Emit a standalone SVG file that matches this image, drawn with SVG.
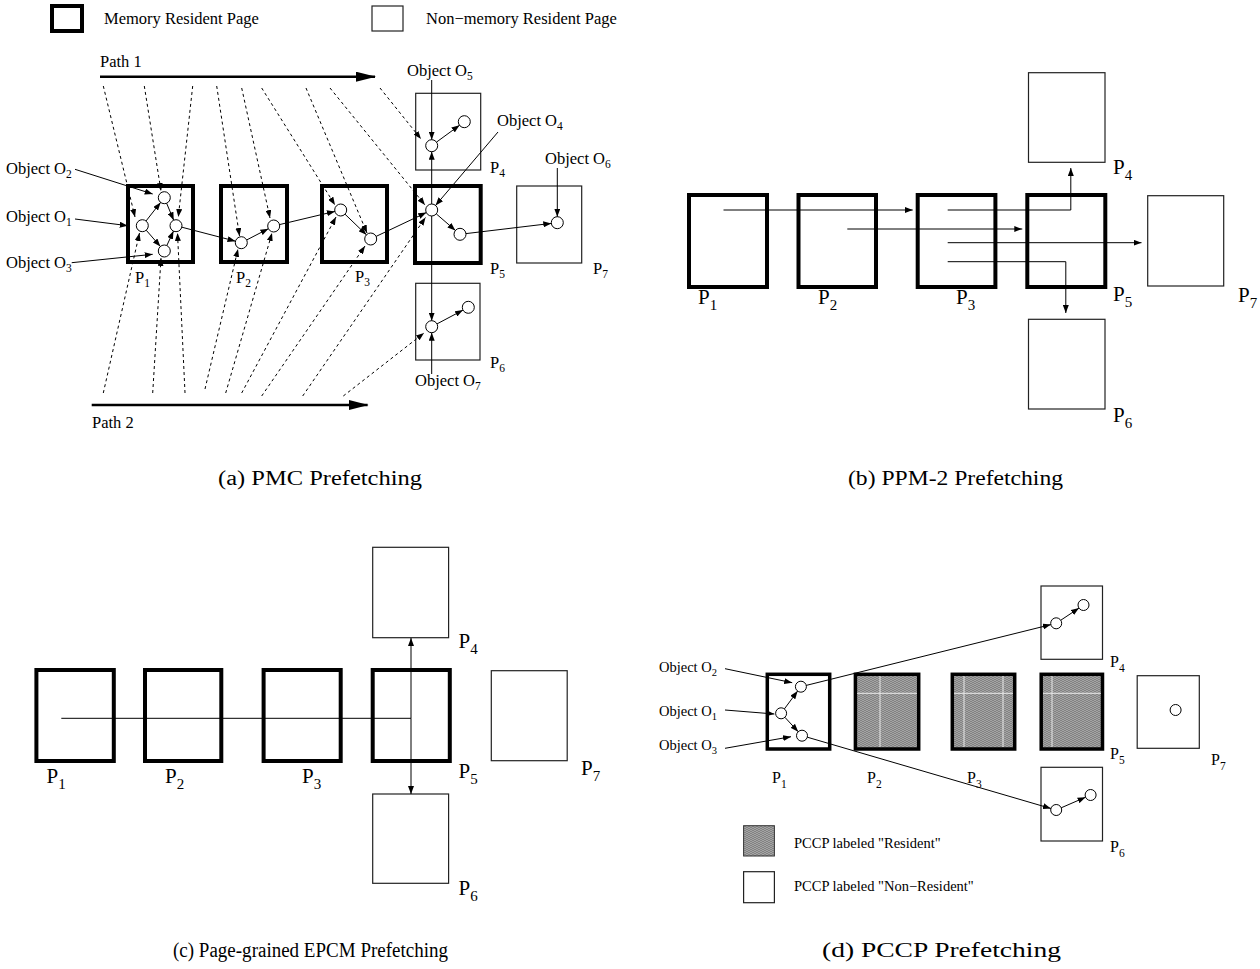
<svg xmlns="http://www.w3.org/2000/svg" width="1260" height="969" viewBox="0 0 1260 969">
<style>
text{font-family:"Liberation Serif","Times New Roman",serif;fill:#000}
.ta{font-size:16.5px}
.tb{font-size:21px}
.td{font-size:14.5px}
.pd{font-size:16px}
.cap{font-size:20.5px}
.thick{fill:#fff;stroke:#000;stroke-width:4}
.thin{fill:#fff;stroke:#222;stroke-width:1.2}
.hat{fill:url(#stip);stroke:#000;stroke-width:3.5}
.c{fill:#fff;stroke:#000;stroke-width:1}
.ln{fill:none;stroke:#000;stroke-width:1;marker-end:url(#ah)}
.ls{fill:none;stroke:#000;stroke-width:1}
.dl{fill:none;stroke:#000;stroke-width:1;stroke-dasharray:3 3;marker-end:url(#ah)}
.pa{fill:none;stroke:#000;stroke-width:2.5;marker-end:url(#big)}
.wl{stroke:#fff;stroke-width:1;opacity:0.8}
</style>
<defs>
<marker id="ah" viewBox="0 0 8 6" refX="8" refY="3" markerWidth="8" markerHeight="6" markerUnits="userSpaceOnUse" orient="auto-start-reverse"><path d="M0,0 L8,3 L0,6 z" fill="#000"/></marker>
<marker id="big" viewBox="0 0 20 10" refX="19" refY="5" markerWidth="20" markerHeight="10" markerUnits="userSpaceOnUse" orient="auto"><path d="M0,0 L20,5 L0,10 z" fill="#000"/></marker>
<pattern id="stip" width="4" height="4" patternUnits="userSpaceOnUse">
<rect width="4" height="4" fill="#b4b4b4"/>
<path d="M0,1 Q1,0 2,1 T4,1 M0,3 Q1,2 2,3 T4,3" fill="none" stroke="#555" stroke-width="0.7"/>
</pattern>
</defs>

<!-- Legend (a) -->
<g id="legend-a">
<rect class="thick" x="52" y="6" width="30" height="25"/>
<text class="ta" x="104" y="24">Memory Resident Page</text>
<rect class="thin" x="372" y="6" width="31" height="25"/>
<text class="ta" x="426" y="24">Non−memory Resident Page</text>
</g>

<!-- Panel (a) -->
<g id="a-paths">
<text class="ta" x="100" y="67">Path 1</text>
<text class="ta" x="92" y="428">Path 2</text>
</g>
<g id="a-P1">
<rect class="thick" x="128" y="186" width="65" height="76"/>
<circle class="c" cx="164.3" cy="197.7" r="6"/>
<circle class="c" cx="142.3" cy="225.7" r="6"/>
<circle class="c" cx="176" cy="225.7" r="6"/>
<circle class="c" cx="164.3" cy="251" r="6"/>
<text class="ta" x="135" y="283">P<tspan dy="4" font-size="11.5">1</tspan></text>
</g>
<g id="a-P2">
<rect class="thick" x="221" y="186" width="66" height="76"/>
<circle class="c" cx="241.3" cy="242.7" r="6"/>
<circle class="c" cx="273.7" cy="226" r="6"/>
<text class="ta" x="236" y="283">P<tspan dy="4" font-size="11.5">2</tspan></text>
</g>
<g id="a-P3">
<rect class="thick" x="322" y="186" width="65" height="76"/>
<circle class="c" cx="340.7" cy="210" r="6"/>
<circle class="c" cx="370.7" cy="239" r="6"/>
<text class="ta" x="355" y="282">P<tspan dy="4" font-size="11.5">3</tspan></text>
</g>
<g id="a-P4">
<rect class="thin" x="415.7" y="93.3" width="65" height="76.7"/>
<circle class="c" cx="431.7" cy="145.7" r="6"/>
<circle class="c" cx="464.3" cy="121.7" r="6"/>
<text class="ta" x="490" y="173">P<tspan dy="4" font-size="11.5">4</tspan></text>
</g>
<g id="a-P5">
<rect class="thick" x="415" y="186" width="65.7" height="77"/>
<circle class="c" cx="431.7" cy="210" r="6"/>
<circle class="c" cx="460" cy="234.3" r="6"/>
<text class="ta" x="490" y="274">P<tspan dy="4" font-size="11.5">5</tspan></text>
</g>
<g id="a-P6">
<rect class="thin" x="415.7" y="283.3" width="64.3" height="76.7"/>
<circle class="c" cx="431.7" cy="326.7" r="6"/>
<circle class="c" cx="468.3" cy="307.3" r="6"/>
<text class="ta" x="490" y="368">P<tspan dy="4" font-size="11.5">6</tspan></text>
</g>
<g id="a-P7">
<rect class="thin" x="516.7" y="186" width="65" height="77"/>
<circle class="c" cx="557.3" cy="222.7" r="6"/>
<text class="ta" x="593" y="274">P<tspan dy="4" font-size="11.5">7</tspan></text>
</g>
<g id="a-objects">
<text class="ta" x="6" y="174">Object O<tspan dy="4" font-size="11.5">2</tspan></text>
<text class="ta" x="6" y="222">Object O<tspan dy="4" font-size="11.5">1</tspan></text>
<text class="ta" x="6" y="268">Object O<tspan dy="4" font-size="11.5">3</tspan></text>
<text class="ta" x="407" y="76">Object O<tspan dy="4" font-size="11.5">5</tspan></text>
<text class="ta" x="497" y="126">Object O<tspan dy="4" font-size="11.5">4</tspan></text>
<text class="ta" x="545" y="164">Object O<tspan dy="4" font-size="11.5">6</tspan></text>
<text class="ta" x="415" y="386">Object O<tspan dy="4" font-size="11.5">7</tspan></text>
</g>

<g id="a-connectors">
<path class="pa" d="M100,76.7 H375"/>
<path class="pa" d="M91.7,405 H367.6"/>
<path class="ln" d="M146,221 L160.6,202.4"/>
<path class="ln" d="M166.6,203.2 L173.7,220.2"/>
<path class="ln" d="M146.2,230.2 L160.4,246.5"/>
<path class="ln" d="M166.8,245.6 L173.5,231.1"/>
<path class="ln" d="M181.8,227.2 L235.5,241.2"/>
<path class="ln" d="M246.6,240 L268.4,228.7"/>
<path class="ln" d="M279.5,224.6 L334.9,211.4"/>
<path class="ln" d="M345,214.2 L366.4,234.8"/>
<path class="ln" d="M376.1,236.4 L426.3,212.6"/>
<path class="ln" d="M436.3,213.9 L455.4,230.4"/>
<path class="ln" d="M466,233.6 L551.3,223.4"/>
<path class="ln" d="M436.5,142.1 L459.5,125.3"/>
<path class="ln" d="M437,323.9 L463,310.1"/>
<path class="ln" d="M431.7,204 V151.7"/>
<path class="ln" d="M431.7,216 V320.7"/>
<path class="ln" d="M431.7,80 V139.7"/>
<path class="ln" d="M431.7,374 V332.7"/>
<path class="ln" d="M498,132 L435.6,205.4"/>
<path class="ln" d="M557.3,168 V216.7"/>
<path class="ln" d="M75,169.3 L152.7,194"/>
<path class="ln" d="M75,219 L127.7,225.7"/>
<path class="ln" d="M71.7,262.7 L152.7,254.3"/>
<path class="dl" d="M103.3,86 L135,217"/>
<path class="dl" d="M144.3,86 L161,191"/>
<path class="dl" d="M192.7,86 L178.3,217"/>
<path class="dl" d="M216.7,86 L239.5,236"/>
<path class="dl" d="M241.7,88 L270,218"/>
<path class="dl" d="M261.7,88 L335,205"/>
<path class="dl" d="M306,88 L367,233"/>
<path class="dl" d="M330,88 L425,205"/>
<path class="dl" d="M380,88 L421,139"/>
<path class="dl" d="M103.3,393 L139.5,233"/>
<path class="dl" d="M152.7,393 L161,258"/>
<path class="dl" d="M185,393 L177.5,233"/>
<path class="dl" d="M205,389 L238,249"/>
<path class="dl" d="M225.7,393 L272,233"/>
<path class="dl" d="M241.7,393 L336,217"/>
<path class="dl" d="M261.7,396 L365,246"/>
<path class="dl" d="M302.7,396 L425.5,217.5"/>
<path class="dl" d="M343.3,396 L424,333"/>
</g>
<text class="cap" x="218" y="485" textLength="204" lengthAdjust="spacingAndGlyphs">(a) PMC Prefetching</text>

<!-- Panel (b) -->
<g id="b-P1"><rect class="thick" x="689" y="195" width="78" height="92"/><text class="tb" x="698" y="304">P<tspan dy="6" font-size="15">1</tspan></text></g>
<g id="b-P2"><rect class="thick" x="798.5" y="195" width="77.5" height="92"/><text class="tb" x="818" y="304">P<tspan dy="6" font-size="15">2</tspan></text></g>
<g id="b-P3"><rect class="thick" x="917.7" y="195" width="77.7" height="92"/><text class="tb" x="956" y="304">P<tspan dy="6" font-size="15">3</tspan></text></g>
<g id="b-P5"><rect class="thick" x="1027.3" y="195" width="78" height="92"/><text class="tb" x="1113" y="301">P<tspan dy="6" font-size="15">5</tspan></text></g>
<g id="b-P7"><rect class="thin" x="1147.7" y="195.7" width="76" height="90.3"/><text class="tb" x="1238" y="302">P<tspan dy="6" font-size="15">7</tspan></text></g>
<g id="b-P4"><rect class="thin" x="1028.5" y="72.7" width="76.5" height="89.6"/><text class="tb" x="1113" y="174">P<tspan dy="6" font-size="15">4</tspan></text></g>
<g id="b-P6"><rect class="thin" x="1028.5" y="319.3" width="76.5" height="89.7"/><text class="tb" x="1113" y="422">P<tspan dy="6" font-size="15">6</tspan></text></g>
<g id="b-connectors">
<path class="ln" d="M723.5,210 H912.7"/>
<path class="ln" d="M847.3,229 H1022.3"/>
<path class="ln" d="M947.7,210 H1070.8 V168"/>
<path class="ln" d="M947.7,242.7 H1141.5"/>
<path class="ln" d="M947.7,261.7 H1065.8 V313"/>
</g>
<text class="cap" x="848" y="485" textLength="215" lengthAdjust="spacingAndGlyphs">(b) PPM-2 Prefetching</text>

<!-- Panel (c) -->
<g id="c-P1"><rect class="thick" x="36.4" y="670" width="77.4" height="91"/><text class="tb" x="46.6" y="783">P<tspan dy="6" font-size="15">1</tspan></text></g>
<g id="c-P2"><rect class="thick" x="145" y="670" width="76.3" height="91"/><text class="tb" x="165" y="783">P<tspan dy="6" font-size="15">2</tspan></text></g>
<g id="c-P3"><rect class="thick" x="263.6" y="670" width="77.1" height="91"/><text class="tb" x="302" y="783">P<tspan dy="6" font-size="15">3</tspan></text></g>
<g id="c-P5"><rect class="thick" x="372.7" y="670" width="77.1" height="91"/><text class="tb" x="458.5" y="778">P<tspan dy="6" font-size="15">5</tspan></text></g>
<g id="c-P7"><rect class="thin" x="491.3" y="670.7" width="75.9" height="90"/><text class="tb" x="581" y="775">P<tspan dy="6" font-size="15">7</tspan></text></g>
<g id="c-P4"><rect class="thin" x="372.7" y="547.3" width="75.9" height="90.4"/><text class="tb" x="458.5" y="648">P<tspan dy="6" font-size="15">4</tspan></text></g>
<g id="c-P6"><rect class="thin" x="372.7" y="794" width="75.9" height="89.3"/><text class="tb" x="458.5" y="895">P<tspan dy="6" font-size="15">6</tspan></text></g>
<g id="c-connectors">
<path class="ls" d="M61.3,718.3 H411"/>
<path class="ln" d="M411,718.3 V638"/>
<path class="ln" d="M411,718.3 V794"/>
</g>
<text class="cap" x="173" y="957" textLength="275" lengthAdjust="spacingAndGlyphs">(c) Page-grained EPCM Prefetching</text>

<!-- Panel (d) -->
<g id="d-P1">
<rect class="thick" x="767.3" y="674.3" width="62.4" height="74.7" style="stroke-width:3.5"/>
<circle class="c" cx="800.9" cy="686.7" r="5.5"/>
<circle class="c" cx="781.1" cy="713.3" r="5.5"/>
<circle class="c" cx="802" cy="735.7" r="5.5"/>
<text class="pd" x="772" y="783">P<tspan dy="4.5" font-size="11.5">1</tspan></text>
</g>
<g id="d-P2">
<rect class="hat" x="855.4" y="674.3" width="63.3" height="74.7"/>
<path class="wl" d="M880,676 V747 M857,693.3 H917"/>
<text class="pd" x="867" y="783">P<tspan dy="4.5" font-size="11.5">2</tspan></text>
</g>
<g id="d-P3">
<rect class="hat" x="952.3" y="674.3" width="62.4" height="74.7"/>
<path class="wl" d="M964,676 V747 M1003,676 V747 M954,693.3 H1013"/>
<text class="pd" x="967" y="783">P<tspan dy="4.5" font-size="11.5">3</tspan></text>
</g>
<g id="d-P5">
<rect class="hat" x="1041.2" y="674.3" width="61.3" height="74.7"/>
<path class="wl" d="M1052,676 V747 M1043,693.3 H1101"/>
<text class="pd" x="1110" y="759">P<tspan dy="4.5" font-size="11.5">5</tspan></text>
</g>
<g id="d-P4">
<rect class="thin" x="1041" y="586" width="61.5" height="73.3"/>
<circle class="c" cx="1056.2" cy="623.3" r="5.5"/>
<circle class="c" cx="1083.5" cy="605" r="5.5"/>
<text class="pd" x="1110" y="667">P<tspan dy="4.5" font-size="11.5">4</tspan></text>
</g>
<g id="d-P6">
<rect class="thin" x="1041" y="767.3" width="61.5" height="73.7"/>
<circle class="c" cx="1056.2" cy="810" r="5.5"/>
<circle class="c" cx="1090.6" cy="795" r="5.5"/>
<text class="pd" x="1110" y="852">P<tspan dy="4.5" font-size="11.5">6</tspan></text>
</g>
<g id="d-P7">
<rect class="thin" x="1137.2" y="675.7" width="62.1" height="72.6"/>
<circle class="c" cx="1175.6" cy="710" r="5.5"/>
<text class="pd" x="1211" y="765">P<tspan dy="4.5" font-size="11.5">7</tspan></text>
</g>
<g id="d-objects">
<text class="td" x="659" y="672">Object O<tspan dy="4" font-size="10.5">2</tspan></text>
<text class="td" x="659" y="716">Object O<tspan dy="4" font-size="10.5">1</tspan></text>
<text class="td" x="659" y="750">Object O<tspan dy="4" font-size="10.5">3</tspan></text>
</g>
<g id="d-connectors">
<path class="ln" d="M725,668.7 L792.2,682.7"/>
<path class="ln" d="M725,710 L774.4,714"/>
<path class="ln" d="M725,748.3 L791,736.7"/>
<path class="ln" d="M784.4,708.9 L797.6,691.1"/>
<path class="ln" d="M784.9,717.3 L798.2,731.7"/>
<path class="ln" d="M806.2,685.4 L1050.9,624.6"/>
<path class="ln" d="M1060.8,620.2 L1079,608.1"/>
<path class="ln" d="M807.3,737.2 L1050.9,808.5"/>
<path class="ln" d="M1061.2,807.8 L1085.6,797.2"/>
</g>
<g id="legend-d">
<rect x="743.6" y="825.7" width="30.8" height="30.3" fill="url(#stip)" stroke="#333" stroke-width="1"/>
<text class="td" x="794" y="848">PCCP labeled "Resident"</text>
<rect class="thin" x="743.6" y="871.7" width="30.8" height="31"/>
<text class="td" x="794" y="891">PCCP labeled "Non−Resident"</text>
</g>
<text class="cap" x="822" y="957" textLength="239" lengthAdjust="spacingAndGlyphs">(d) PCCP Prefetching</text>
</svg>
